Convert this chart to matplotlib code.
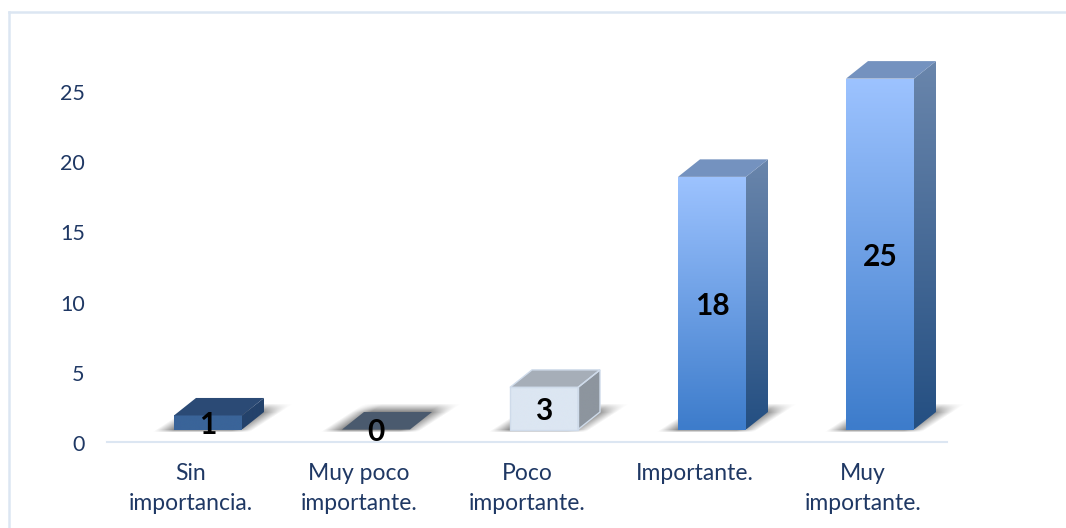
import numpy as np
import matplotlib.pyplot as plt
from matplotlib.colors import LinearSegmentedColormap
from matplotlib.lines import Line2D
from matplotlib.patches import Polygon

categories = ["Sin\nimportancia.", "Muy poco\nimportante.", "Poco\nimportante.", "Importante.", "Muy\nimportante."]
values = [1, 0, 3, 18, 25]
y_ticks = [0, 5, 10, 15, 20, 25]

front_top = ["#3a6499", "#4a5a6e", "#dce6f2", "#9dc3ff", "#9dc3ff"]
front_bottom = ["#3a6499", "#4a5a6e", "#dce6f2", "#3d7ccb", "#3d7ccb"]
top_colors = ["#2b4a75", "#4a5a6e", "#a6aeb8", "#7492bf", "#7492bf"]
side_top = ["#24426b", "#4a5a6e", "#8d959e", "#6a86ac", "#6a86ac"]
side_bottom = ["#24426b", "#4a5a6e", "#8d959e", "#244f82", "#244f82"]

TEXT_COLOR = "#1f3864"
FRAME_COLOR = "#dce6f2"
W, H = 1066, 528

plt.rcParams["font.family"] = ["Lato", "DejaVu Sans"]

fig = plt.figure(figsize=(W / 100, H / 100), dpi=100)
ax = fig.add_axes([107 / W, (H - 443) / H, 840 / W, 393 / H])

for name in ["top", "right", "left"]:
    ax.spines[name].set_visible(False)
ax.spines["bottom"].set_color(FRAME_COLOR)
ax.spines["bottom"].set_linewidth(1.5)
ax.spines["bottom"].set_position(("outward", -1))

ax.set_xlim(-0.5, 4.5)
ax.set_ylim(0, 28)

# one pixel in data units, the fake 3d is laid out in pixels
px = 5 / 840
py = 28 / 393
shift = 17 * px
width = 68 * px
base = 13.5 * py
dx = 22 * px
dy = 17.5 * py


def gradient(poly, c_top, c_bottom, y0, y1):
    cmap = LinearSegmentedColormap.from_list("g", [c_bottom, c_top])
    x = [p[0] for p in poly]
    grad = np.linspace(0, 1, 256).reshape(-1, 1)
    im = ax.imshow(grad, origin="lower", aspect="auto", cmap=cmap, zorder=3,
                   extent=(min(x), max(x), y0, y1), interpolation="bilinear")
    im.set_clip_path(Polygon(poly, closed=True, transform=ax.transData))


def shadow(x0, y0):
    # soft sheared shape on the floor, built on a pixel grid around the bar
    u, v = np.meshgrid(np.arange(-30, 130), np.arange(-6, 30))
    s = u - 1.54 * (v + 2)
    a = np.clip((s + 20) / 20, 0, 1) * np.clip((78 - s) / 20, 0, 1)
    a = a * np.clip((v + 4) / 3, 0, 1) * np.clip((25 - v) / 9, 0, 1)
    img = np.zeros(u.shape + (4,))
    img[..., :3] = 0.3
    img[..., 3] = 0.72 * a
    ax.imshow(img, origin="lower", aspect="auto", zorder=1, interpolation="bilinear",
              extent=(x0 - 30 * px, x0 + 130 * px, y0 - 6 * py, y0 + 30 * py), clip_on=False)


for i, v in enumerate(values):
    x0 = i + shift - width / 2
    x1 = x0 + width
    y0 = base
    y1 = base + v
    shadow(x0, y0)

    front = [(x0, y0), (x1, y0), (x1, y1), (x0, y1)]
    side = [(x1, y0), (x1 + dx, y0 + dy), (x1 + dx, y1 + dy), (x1, y1)]
    top = [(x0, y1), (x1, y1), (x1 + dx, y1 + dy), (x0 + dx, y1 + dy)]

    if v > 0:
        ax.bar(i + shift, v, width=width, bottom=base, color=front_bottom[i], zorder=2)
        gradient(front, front_top[i], front_bottom[i], y0, y1)
        gradient(side, side_top[i], side_bottom[i], y0, y1 + dy)
    edge = "#cfdbea" if i == 2 else "none"
    ax.add_patch(Polygon(top, closed=True, facecolor=top_colors[i], edgecolor=edge,
                         linewidth=1, zorder=4, clip_on=False))
    if i == 2:
        ax.add_patch(Polygon(front, closed=True, fill=False, edgecolor=edge, linewidth=1, zorder=4))
        ax.add_patch(Polygon(side, closed=True, fill=False, edgecolor=edge, linewidth=1, zorder=4))

    ax.text(i + shift, base + v / 2 - 2.5 * py, str(v), ha="center", va="center", fontsize=21.5,
            fontweight="bold", color="black", zorder=6, clip_on=False)

ax.set_xlim(-0.5, 4.5)
ax.set_ylim(0, 28)
ax.set_xticks(range(len(categories)))
ax.set_xticklabels(categories, fontsize=16.5, color=TEXT_COLOR, linespacing=1.5)
ax.set_yticks(y_ticks)
ax.set_yticklabels([str(t) for t in y_ticks], fontsize=15.5, color=TEXT_COLOR)
ax.tick_params(axis="both", length=0)
ax.tick_params(axis="x", pad=15.5)
ax.tick_params(axis="y", pad=16)
ax.patch.set_visible(False)

# frame of the picture, it runs off the right and bottom edges
fig.add_artist(Line2D([8.5 / W, 8.5 / W], [0, (H - 11.5) / H], color=FRAME_COLOR, linewidth=1.8))
fig.add_artist(Line2D([8.5 / W, 1], [(H - 11.5) / H, (H - 11.5) / H], color=FRAME_COLOR, linewidth=1.8))

plt.savefig("out.png", dpi=100)
